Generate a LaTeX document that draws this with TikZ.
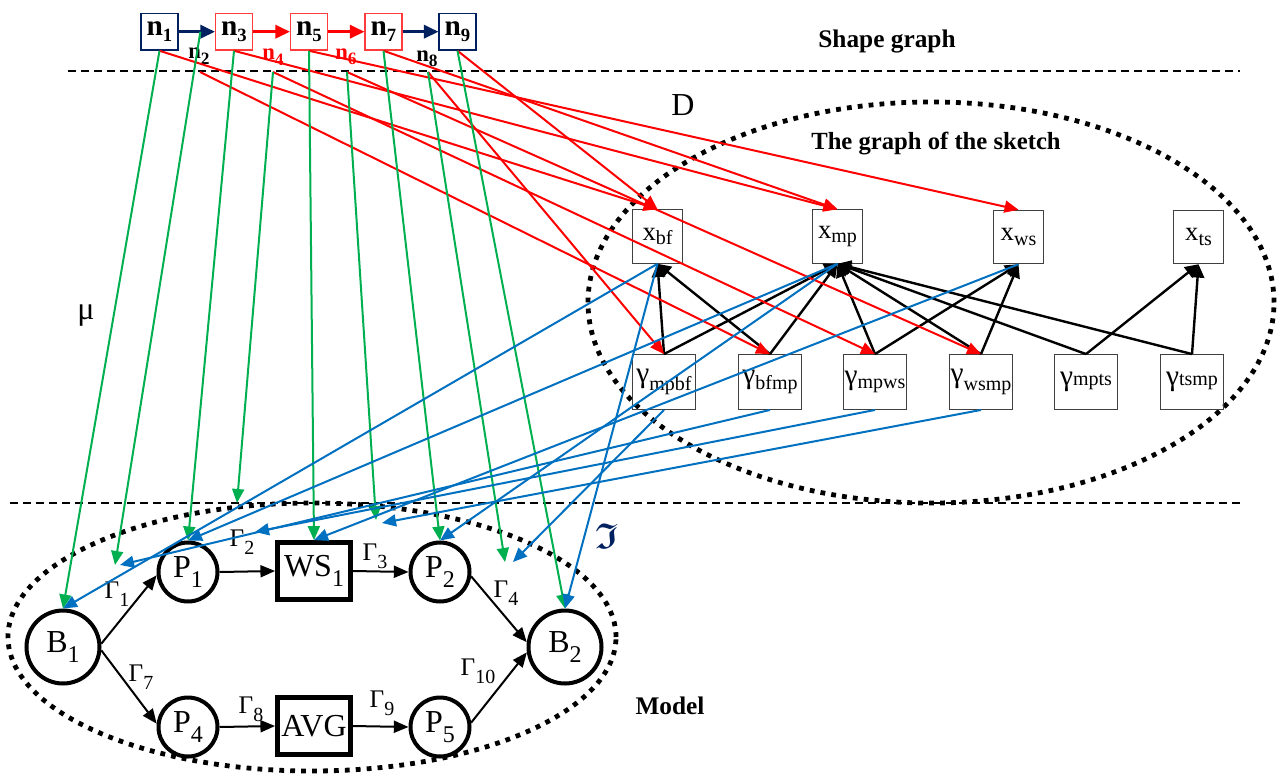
\documentclass[tikz,border=0pt]{standalone}
\usepackage{amssymb}
\usepackage{fontspec}
\setmainfont{Liberation Serif}
\usetikzlibrary{arrows.meta}
\definecolor{navy}{HTML}{002060}
\definecolor{dred}{HTML}{FF0000}
\definecolor{lred}{HTML}{FF3B3B}
\definecolor{dgreen}{HTML}{00B050}
\definecolor{dblue}{HTML}{0070C0}
\newcommand{\nn}[1]{n\raisebox{-4pt}{\fontsize{14}{14}\selectfont #1}}
\newcommand{\nlab}[1]{n\raisebox{-4pt}{\fontsize{13}{13}\selectfont #1}}
\newcommand{\xl}[1]{{\fontsize{20}{20}\selectfont x}\raisebox{-3.5pt}{\fontsize{15}{15}\selectfont #1}}
\newcommand{\gl}[2]{{\fontsize{22}{22}\selectfont γ}\raisebox{-#2}{\fontsize{15}{15}\selectfont #1}}
\newcommand{\ml}[2]{{\fontsize{24}{24}\selectfont #1}\raisebox{-8pt}{\fontsize{18}{18}\selectfont #2}}
\newcommand{\Gl}[1]{{\fontsize{19}{19}\selectfont Γ}\raisebox{-6pt}{\fontsize{15}{15}\selectfont #1}}
\newcommand{\frakI}{{\fontsize{27}{27}\usefont{U}{euf}{b}{n}I}}
\begin{document}
\begin{tikzpicture}[x=0.75pt,y=-0.75pt,
  sg/.style={draw, line width=1.1pt, fill=white, minimum width=27.5pt, minimum height=27.5pt, inner sep=0pt, font=\fontsize{22}{22}\bfseries\selectfont},
  elab/.style={inner sep=0pt, font=\fontsize{17}{17}\bfseries\selectfont},
  skx/.style={draw=black!75, line width=0.9pt, minimum width=37.5pt, minimum height=40pt, inner sep=0pt},
  skg/.style={draw=black!75, line width=0.9pt, minimum width=47pt, minimum height=41pt, inner sep=0pt},
  bc/.style={circle, draw, line width=3pt, minimum size=54.75pt, inner sep=0pt},
  pc/.style={circle, draw, line width=3pt, minimum size=44.25pt, inner sep=0pt},
  mbox/.style={draw, line width=3.6pt, minimum width=54.75pt, minimum height=42.75pt, inner sep=0pt, font=\fontsize{24}{24}\selectfont},
  dline/.style={line width=1.1pt, dash pattern=on 6pt off 3.75pt},
  dotline/.style={line width=3.6pt, dash pattern=on 3.6pt off 4.6pt},
  sgarr/.style={line width=2.2pt, -{Triangle[length=11pt,width=10pt]}},
  carr/.style={line width=1.5pt, -{Triangle[length=10.5pt,width=9pt]}},
  redarr/.style={carr, draw=dred, color=dred},
  grarr/.style={carr, draw=dgreen, color=dgreen},
  blarr/.style={carr, draw=dblue, color=dblue},
  sarr/.style={line width=1.8pt, -{Triangle[length=10pt,width=10pt]}},
  marr/.style={line width=1.5pt, -{Triangle[length=11pt,width=9pt]}},
  ttl/.style={font=\fontsize{19}{19}\bfseries\selectfont, inner sep=0pt},
  gam/.style={inner sep=0pt}
]
\useasboundingbox (0,0) rectangle (1280,774);

% separators and ellipses
\draw[dline] (68,71) -- (1240,71);
\draw[dline] (10,503) -- (1240,503);
\draw[dotline] (931,302.5) ellipse [x radius=257.25pt, y radius=150.4pt];
\draw[dotline] (312,637) ellipse [x radius=228pt, y radius=100.5pt];

% titles
\node[ttl] (tshape) at (887,42) {Shape graph};
\node[ttl, font=\fontsize{18.5}{18.5}\bfseries\selectfont] (tsketch) at (936,144) {The graph of the sketch};
\node[ttl] (tmodel) at (670,706) {Model};
\node[inner sep=0pt, font=\fontsize{24}{24}\selectfont] (D) at (683,105) {D};
\node[inner sep=0pt, font=\fontsize{24}{24}\selectfont] (mu) at (86,316) {μ};
\node[inner sep=0pt, text=navy] (frak) at (607,536) {\frakI};

% shape graph
\node[sg, draw=navy] (n1) at (159.5,31.7) {\nn{1}};
\node[sg, draw=lred] (n3) at (234,31.7) {\nn{3}};
\node[sg, draw=lred] (n5) at (309,31.7) {\nn{5}};
\node[sg, draw=lred] (n7) at (383.5,31.7) {\nn{7}};
\node[sg, draw=navy] (n9) at (457.5,31.7) {\nn{9}};
\draw[sgarr, draw=navy, color=navy] (n1) -- coordinate[pos=0.6] (e2) (n3);
\draw[sgarr, draw=dred, color=dred] (n3) -- (n5);
\draw[sgarr, draw=dred, color=dred] (n5) -- (n7);
\draw[sgarr, draw=navy, color=navy] (n7) -- (n9);
\node[elab] (l2) at (199,56) {\nlab{2}};
\node[elab, text=dred] (l4) at (273,57) {\nlab{4}};
\node[elab, text=dred] (l6) at (346,57) {\nlab{6}};
\node[elab] (l8) at (427,59) {\nlab{8}};
\coordinate (s2) at (200,72);
\coordinate (s4) at (273,72);
\coordinate (s6) at (347,72);
\coordinate (s8) at (428,72);

% sketch graph
\node[skx] (xbf) at (657.5,236.5) {\xl{bf}};
\node[skx] (xmp) at (837.5,236.5) {\xl{mp}};
\node[skx] (xws) at (1018.5,237) {\xl{ws}};
\node[skx] (xts) at (1198.5,237) {\xl{ts}};
\node[skg] (gmpbf) at (664,382) {\gl{mpbf}{6pt}};
\node[skg] (gbfmp) at (770,382) {\gl{bfmp}{5pt}};
\node[skg] (gmpws) at (875,382) {\gl{mpws}{3pt}};
\node[skg] (gwsmp) at (981,382) {\gl{wsmp}{6pt}};
\node[skg] (gmpts) at (1086,382) {\gl{mpts}{0pt}};
\node[skg] (gtsmp) at (1192,382) {\gl{tsmp}{0pt}};

\draw[sarr] (gmpbf.north) -- (xbf.south);
\draw[sarr] (gmpbf.north) -- (xmp.south);
\draw[sarr] (gbfmp.north) -- (xbf.south);
\draw[sarr] (gbfmp.north) -- (xmp.south);
\draw[sarr] (gmpws.north) -- (xmp.south);
\draw[sarr] (gmpws.north) -- (xws.south);
\draw[sarr] (gwsmp.north) -- (xmp.south);
\draw[sarr] (gwsmp.north) -- (xws.south);
\draw[sarr] (gmpts.north) -- (xmp.south);
\draw[sarr] (gmpts.north) -- (xts.south);
\draw[sarr] (gtsmp.north) -- (xmp.south);
\draw[sarr] (gtsmp.north) -- (xts.south);

% model
\node[bc] (B1) at (63,647) {\ml{B}{1}};
\node[pc] (P1) at (188,572) {\ml{P}{1}};
\node[mbox] (WS1) at (314,571) {\ml{WS}{1}};
\node[pc] (P2) at (440,572) {\ml{P}{2}};
\node[bc] (B2) at (565,647) {\ml{B}{2}};
\node[pc] (P4) at (188,727) {\ml{P}{4}};
\node[mbox] (AVG) at (314,726) {AVG};
\node[pc] (P5) at (440,727) {\ml{P}{5}};

\draw[marr] (B1.5) -- (P1.186);
\draw[marr] (B1.-5) -- (P4.174);
\draw[marr] (P1.east) -- (WS1.west);
\draw[marr] (WS1.east) -- (P2.west);
\draw[marr] (P2.-8) -- (B2.173);
\draw[marr] (P4.east) -- (AVG.west);
\draw[marr] (AVG.east) -- (P5.west);
\draw[marr] (P5.8) -- (B2.188);

\node[gam] (G1) at (117,594) {\Gl{1}};
\node[gam] (G2) at (242,542) {\Gl{2}};
\node[gam] (G3) at (375,556) {\Gl{3}};
\node[gam] (G4) at (506,593) {\Gl{4}};
\node[gam] (G7) at (141,677) {\Gl{7}};
\node[gam] (G8) at (251,709) {\Gl{8}};
\node[gam] (G9) at (382,703) {\Gl{9}};
\node[gam] (G10) at (478,671) {\Gl{10}};

\coordinate (G1g) at (115,565);
\coordinate (G2g) at (237,503);
\coordinate (G3g) at (376,520);
\coordinate (G4g) at (505,562);
\coordinate (G1b) at (120,565);
\coordinate (G2b) at (255,532);
\coordinate (G3b) at (382,523);
\coordinate (G4b) at (513,562);

% D : red
\draw[redarr] (n1.south) -- (xbf.north);
\draw[redarr] (s2) -- (gbfmp.north);
\draw[redarr] (n3.south) -- (xmp.north);
\draw[redarr] (s4) -- (gmpws.north);
\draw[redarr] (n5.south) -- (xws.north);
\draw[redarr] (s6) -- (gwsmp.north);
\draw[redarr] (n7.south) -- (xmp.north);
\draw[redarr] (s8) -- (gmpbf.north);
\draw[redarr] (n9.south) -- (xbf.north);

% mu : green
\draw[grarr] (n1.south) -- (B1.north);
\draw[grarr] (e2) -- (G1g);
\draw[grarr] (n3.south) -- (P1.north);
\draw[grarr] (s4) -- (G2g);
\draw[grarr] (n5.south) -- (WS1.north);
\draw[grarr] (s6) -- (G3g);
\draw[grarr] (n7.south) -- (P2.north);
\draw[grarr] (s8) -- (G4g);
\draw[grarr] (n9.south) -- (B2.north);

% blue
\draw[blarr] (xbf.south) -- (B1.north);
\draw[blarr] (xbf.south) -- (B2.north);
\draw[blarr] (xmp.south) -- (P1.north);
\draw[blarr] (xmp.south) -- (P2.north);
\draw[blarr] (xws.south) -- (WS1.north);
\draw[blarr] (gbfmp.south) -- (G1b);
\draw[blarr] (gmpws.south) -- (G2b);
\draw[blarr] (gwsmp.south) -- (G3b);
\draw[blarr] (gmpbf.south) -- (G4b);
\end{tikzpicture}
\end{document}
